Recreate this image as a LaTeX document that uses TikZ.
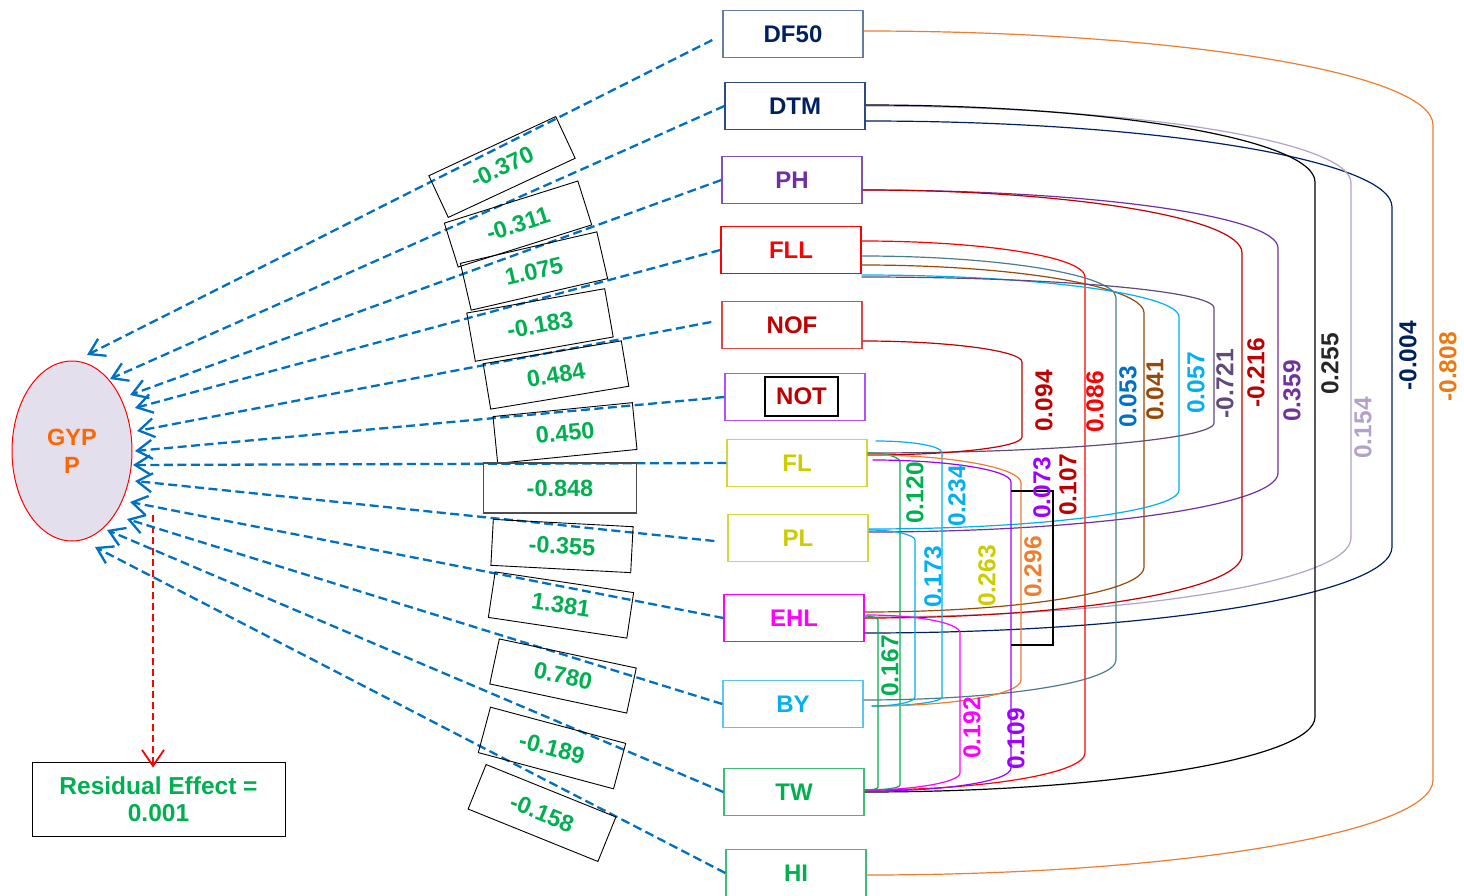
\documentclass[tikz,border=0pt]{standalone}
\usepackage{fontspec}
\setmainfont{Liberation Sans}
\usetikzlibrary{arrows.meta,shapes.geometric}
\definecolor{cblue}{HTML}{0070C0}
\definecolor{cgreen}{HTML}{00B050}
\definecolor{cnavy}{HTML}{002060}
\definecolor{cdfbd}{HTML}{6A7BA2}
\definecolor{cdtmbd}{HTML}{2F4A7C}
\definecolor{cpurple}{HTML}{7030A0}
\definecolor{cphbd}{HTML}{8050B8}
\definecolor{cred}{HTML}{FF0000}
\definecolor{cdred}{HTML}{C00000}
\definecolor{cnofbd}{HTML}{E04848}
\definecolor{cnotbd}{HTML}{B050FF}
\definecolor{cyel}{HTML}{CCCC00}
\definecolor{cyelbd}{HTML}{D6D63A}
\definecolor{cmag}{HTML}{FF00FF}
\definecolor{ccyan}{HTML}{00B0F0}
\definecolor{cbybd}{HTML}{5CC4F0}
\definecolor{cgrbd}{HTML}{3DBE78}
\definecolor{corange}{HTML}{ED7D31}
\definecolor{corlab}{HTML}{F07810}
\definecolor{clav}{HTML}{B3A2C7}
\definecolor{cgpur}{HTML}{604A7B}
\definecolor{cbrown}{HTML}{984807}
\definecolor{cteal}{HTML}{4A7D8C}
\definecolor{cviolet}{HTML}{9D00FF}
\definecolor{cgyp}{HTML}{FF6600}
\definecolor{cgyfill}{HTML}{E4DFEC}
\definecolor{cdark}{HTML}{262626}
\tikzset{
  nbox/.style={draw, line width=1.4pt, minimum width=140pt, minimum height=47pt, inner sep=0pt, font=\fontsize{24}{27}\selectfont\bfseries},
  lbox/.style={draw=black, line width=0.9pt, minimum width=140pt, minimum height=46pt, inner sep=0pt, text=cgreen, font=\fontsize{23.5}{26}\selectfont\bfseries},
  vlab/.style={rotate=90, inner sep=0pt, font=\fontsize{24.5}{27}\selectfont\bfseries},
  dasharrow/.style={draw=cblue, line width=2.3pt, dash pattern=on 9pt off 4.5pt, -{Straight Barb[length=15pt,width=19pt]}},
  reddash/.style={draw=cred, line width=1.8pt, dash pattern=on 7pt off 4pt, -{Straight Barb[length=16pt,width=22pt]}},
  corr/.style={line width=1.2pt}
}
\begin{document}
\begin{tikzpicture}[x=1pt,y=-1pt]
\useasboundingbox (0,0) rectangle (1464,896);

% trait boxes
\node[nbox, draw=cdfbd, text=cnavy] (DF50) at (793,34) {DF50};
\node[nbox, draw=cdtmbd, text=cnavy] (DTM) at (795,106) {DTM};
\node[nbox, draw=cphbd, text=cpurple] (PH) at (792,180) {PH};
\node[nbox, draw=cred, text=cred] (FLL) at (791,250) {FLL};
\node[nbox, draw=cnofbd, text=cdred] (NOF) at (792,325) {NOF};
\node[nbox, draw=cnotbd] (NOT) at (795,397) {};
\node[draw=black, line width=1.2pt, minimum width=73pt, minimum height=39pt, inner sep=0pt, text=cdred, font=\fontsize{24}{27}\selectfont\bfseries] (NOTin) at (801.5,396.5) {NOT};
\node[nbox, draw=cyelbd, text=cyel] (FL) at (797,463) {FL};
\node[nbox, draw=cyelbd, text=cyel] (PL) at (798,538) {PL};
\node[nbox, draw=cmag, text=cmag] (EHL) at (794,618) {EHL};
\node[nbox, draw=cbybd, text=ccyan] (BY) at (793,704) {BY};
\node[nbox, draw=cgrbd, text=cgreen] (TW) at (794,792) {TW};
\node[nbox, draw=cgrbd, text=cgreen] (HI) at (796,873) {HI};

% GYPP and residual
\node[ellipse, draw=cred, fill=cgyfill, line width=1pt, minimum width=120pt, minimum height=180pt, inner sep=0pt, align=center, text=cgyp, font=\fontsize{23.5}{28}\selectfont\bfseries] (GYPP) at (72,451) {GYP\\P};
\node[draw=black, line width=1pt, minimum width=253pt, minimum height=74pt, align=center, text=cgreen, font=\fontsize{24.5}{27}\selectfont\bfseries] (RES) at (158.5,799) {Residual Effect =\\0.001};
\coordinate (rs) at (153,515);
\draw[reddash, shorten >=-6pt] (rs) -- (rs |- RES.north);

% arrow tips at GYPP
\coordinate (t1) at (87,355);
\coordinate (t2) at (110,379);
\coordinate (t3) at (130,395);
\coordinate (t4) at (135,408);
\coordinate (t5) at (137,431);
\coordinate (t6) at (135,451);
\coordinate (t7) at (133,465);
\coordinate (t8) at (135,481);
\coordinate (t9) at (130,502);
\coordinate (t10) at (127,519);
\coordinate (t11) at (107,530);
\coordinate (t12) at (95,547);

\draw[dasharrow] ([xshift=-10pt,yshift=-6pt]DF50.west) -- (t1);
\draw[dasharrow] (DTM.west) -- (t2);
\draw[dasharrow] (PH.west) -- (t3);
\draw[dasharrow] (FLL.west) -- (t4);
\draw[dasharrow] ([xshift=-10pt,yshift=3pt]NOF.west) -- (t5);
\draw[dasharrow] (NOT.west) -- (t6);
\draw[dasharrow] (FL.west) -- (t7);
\draw[dasharrow] ([xshift=-13pt,yshift=-3pt]PL.west) -- (t8);
\draw[dasharrow] (EHL.west) -- (t9);
\draw[dasharrow] (BY.west) -- (t10);
\draw[dasharrow] (TW.west) -- (t11);
\draw[dasharrow] (HI.west) -- (t12);

% path coefficient boxes
\node[lbox, rotate=25] (b1) at (502,167) {-0.370};
\node[lbox, rotate=17.5] (b2) at (518,224) {-0.311};
\node[lbox, rotate=13, minimum height=48pt] (b3) at (534,271) {1.075};
\node[lbox, rotate=10, minimum height=49pt] (b4) at (540,325) {-0.183};
\node[lbox, rotate=9.4] (b5) at (556,375) {0.484};
\node[lbox, rotate=5.7, minimum height=47pt] (b6) at (565,433) {0.450};
\node[lbox, draw=black!70, line width=1.2pt, minimum width=153pt, minimum height=50pt] (b7) at (560,488) {-0.848};
\node[lbox, rotate=-3] (b8) at (562,546) {-0.355};
\node[lbox, rotate=-8.5] (b9) at (561,605) {1.381};
\node[lbox, rotate=-12] (b10) at (563,676) {0.780};
\node[lbox, rotate=-15, minimum height=47pt] (b11) at (552,748) {-0.189};
\node[lbox, rotate=-22, minimum height=48pt] (b12) at (542,813) {-0.158};

% correlation connectors
\draw[corr, draw=corange] ([yshift=3pt]DF50.east) .. controls +(313,0) and +(0,-52) .. (1433,125) -- (1433,780) .. controls +(0,52) and +(312,0) .. ([yshift=-2pt]HI.east);
\draw[corr, draw=cnavy] ([yshift=-15pt]DTM.east) .. controls +(290,0) and +(0,-47) .. (1392,207) -- (1392,547) .. controls +(0,47) and +(290,0) .. ([yshift=-15pt]EHL.east);
\draw[corr, draw=clav] (DTM.east) .. controls +(267,0) and +(0,-42) .. (1351,183) -- (1351,538) .. controls +(0,43) and +(268,0) .. ([yshift=1pt]EHL.east);
\draw[corr, draw=black] ([yshift=1pt]DTM.east) .. controls +(248,0) and +(0,-42) .. (1315,182) -- (1315,717) .. controls +(0,41) and +(248,0) .. (TW.east);
\draw[corr, draw=cpurple] ([yshift=-10pt]PH.east) .. controls +(229,0) and +(0,-32) .. (1278,248) -- (1278,473) .. controls +(0,32) and +(226,0) .. ([yshift=6pt]PL.east);
\draw[corr, draw=cdred] ([yshift=-10pt]PH.east) .. controls +(209,0) and +(0,-35) .. (1242,253) -- (1242,555) .. controls +(0,35) and +(208,0) .. (EHL.east);
\draw[corr, draw=cred] ([yshift=9pt]FLL.east) .. controls +(123,0) and +(0,-20) .. (1085,277) -- (1085,753) .. controls +(0,20) and +(122,0) .. ([yshift=2pt]TW.east);
\draw[corr, draw=cteal] ([yshift=-6pt]FLL.east) .. controls +(140,0) and +(0,-23) .. (1116,298) -- (1116,660) .. controls +(0,22) and +(139,0) .. ([yshift=4pt]BY.east);
\draw[corr, draw=cbrown] ([yshift=-15pt]FLL.east) .. controls +(156,0) and +(0,-26) .. (1144,313) -- (1144,567) .. controls +(0,25) and +(154,0) .. ([yshift=6pt]EHL.east);
\draw[corr, draw=ccyan] ([yshift=-25pt]FLL.east) .. controls +(175,0) and +(0,-23) .. (1179,317) -- (1179,490) .. controls +(0,21) and +(171,0) .. ([yshift=9pt]PL.east);
\draw[corr, draw=cgpur] ([yshift=-27pt]FLL.east) .. controls +(194,0) and +(0,-17) .. (1214,308) -- (1214,423) .. controls +(0,16) and +(191,0) .. ([yshift=10pt]FL.east);
\draw[corr, draw=cdred] ([yshift=-16pt]NOF.east) .. controls +(88,0) and +(0,-11) .. (1022,362) -- (1022,437) .. controls +(0,10) and +(85,0) .. ([yshift=8pt]FL.east);
\draw[corr, draw=ccyan] ([xshift=8pt,yshift=22pt]FL.east) .. controls +(37,0) and +(0,-7) .. (942,453) -- (942,697) .. controls +(0,5) and +(39,0) .. ([xshift=8pt,yshift=-2pt]BY.east);
\draw[corr, draw=cgreen] ([yshift=10pt]FL.east) .. controls +(18,0) and +(0,-5) .. (900,462) -- (900,785) .. controls +(0,3) and +(20,0) .. ([yshift=2pt]TW.east);
\draw[corr, draw=corange] ([yshift=8pt]FL.east) .. controls +(85,0) and +(0,-15) .. (1021,483) -- (1021,680) .. controls +(0,14) and +(82,0) .. ([xshift=9pt,yshift=-2pt]BY.east);
\draw[corr, draw=cviolet] ([xshift=5pt,yshift=3pt]FL.east) .. controls +(76,0) and +(0,-12) .. (1011,482) -- (1011,768) .. controls +(0,13) and +(79,0) .. ([xshift=4pt,yshift=1pt]TW.east);
\draw[corr, draw=ccyan] ([yshift=8pt]PL.east) .. controls +(26,0) and +(0,-5) .. (915,540) -- (915,697) .. controls +(0,5) and +(24,0) .. ([xshift=8pt,yshift=-2pt]BY.east);
\draw[corr, draw=cgreen] ([yshift=2pt]EHL.east) .. controls +(8,0) and +(0,-2) .. (878,620) -- (878,787) .. controls +(0,2) and +(8,0) .. ([yshift=2pt]TW.east);
\draw[corr, draw=cmag] ([xshift=2pt,yshift=3pt]EHL.east) .. controls +(52,0) and +(0,-10) .. (960,633) -- (960,773) .. controls +(0,9) and +(48,0) .. ([xshift=2pt,yshift=2pt]TW.east);
\draw[corr, draw=black] (1011,491) -- (1053,491) -- (1053,645) -- (1011,645);

% correlation labels
\node[vlab, text=corlab] (l1) at (1448,367) {-0.808};
\node[vlab, text=cnavy] (l2) at (1408,356) {-0.004};
\node[vlab, text=clav] (l3) at (1363,428) {0.154};
\node[vlab, text=cdark] (l4) at (1330,364) {0.255};
\node[vlab, text=cpurple] (l5) at (1292,391) {0.359};
\node[vlab, text=cdred] (l6) at (1256,373) {-0.216};
\node[vlab, text=cgpur] (l7) at (1225,384) {-0.721};
\node[vlab, text=ccyan] (l8) at (1196,383) {0.057};
\node[vlab, text=cbrown] (l9) at (1155,390) {0.041};
\node[vlab, text=cblue] (l10) at (1128,397) {0.053};
\node[vlab, text=cred] (l11) at (1095,402) {0.086};
\node[vlab, text=cdred] (l12) at (1044,401) {0.094};
\node[vlab, text=cgreen] (l13) at (915,493) {0.120};
\node[vlab, text=ccyan] (l14) at (957,496) {0.234};
\node[vlab, text=cviolet] (l15) at (1042,488) {0.073};
\node[vlab, text=cdred] (l16) at (1068,485) {0.107};
\node[vlab, text=ccyan] (l17) at (933,577) {0.173};
\node[vlab, text=cyel] (l18) at (987,576) {0.263};
\node[vlab, text=corange] (l19) at (1033,567) {0.296};
\node[vlab, text=cgreen] (l20) at (890,666) {0.167};
\node[vlab, text=cmag] (l21) at (972,728) {0.192};
\node[vlab, text=cviolet] (l22) at (1016,739) {0.109};
\end{tikzpicture}
\end{document}
